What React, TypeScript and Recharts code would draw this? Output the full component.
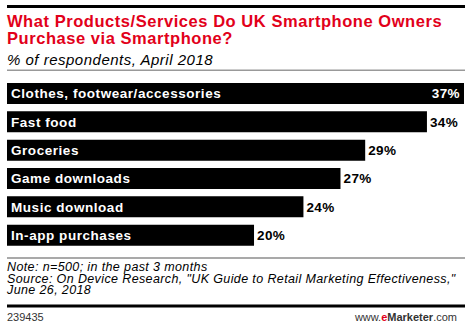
import React from "react";
import { BarChart, Bar, XAxis, YAxis, LabelList } from "recharts";

const categories = [
  "Clothes, footwear/accessories",
  "Fast food",
  "Groceries",
  "Game downloads",
  "Music download",
  "In-app purchases",
];
const values = [37, 34, 29, 27, 24, 20];

const data = categories.map((name, i) => ({ name, value: values[i] }));

const W = 470;
const H = 328;
const FONT = "'Liberation Sans', Arial, sans-serif";
const RED = "#e2001a";

const NameLabel = (props: any) => {
  const { x, y, height, value } = props;
  return (
    <text
      x={x + 4}
      y={y + height / 2}
      dy="0.36em"
      fill="#fff"
      fontFamily={FONT}
      fontWeight="bold"
      fontSize={13.5}
      letterSpacing={0.55}
    >
      {value}
    </text>
  );
};

const ValueLabel = (props: any) => {
  const { x, y, width, height, value } = props;
  const end = x + width;
  const inside = end + 32 > W - 6;
  return (
    <text
      x={inside ? end - 4 : end + 3}
      y={y + height / 2}
      dy="0.36em"
      textAnchor={inside ? "end" : "start"}
      fill={inside ? "#fff" : "#000"}
      fontFamily={FONT}
      fontWeight="bold"
      fontSize={13.5}
      letterSpacing={0.4}
    >
      {value}%
    </text>
  );
};

export default function App() {
  return (
    <div style={{ position: "absolute", left: 0, top: 0, width: W, height: H, background: "#fff" }}>
      <svg width={W} height={H} style={{ position: "absolute", left: 0, top: 0 }}>
        <rect x={7} y={5} width={458} height={3} fill="#000" />
        <text x={7} y={27} fill={RED} fontFamily={FONT} fontWeight="bold" fontSize={16.5} letterSpacing={0.55}>
          What Products/Services Do UK Smartphone Owners
        </text>
        <text x={7} y={43.5} fill={RED} fontFamily={FONT} fontWeight="bold" fontSize={16.5} letterSpacing={0.55}>
          Purchase via Smartphone?
        </text>
        <text x={7} y={65} fill="#000" fontFamily={FONT} fontStyle="italic" fontSize={15} letterSpacing={0.5}>
          % of respondents, April 2018
        </text>
        <rect x={7} y={69.5} width={458} height={1.5} fill="#999" />
        <rect x={7} y={257.5} width={458} height={1} fill="#555" />
        <text x={7} y={271} fill="#000" fontFamily={FONT} fontStyle="italic" fontSize={12.5} letterSpacing={0.38}>
          Note: n=500; in the past 3 months
        </text>
        <text x={7} y={282.5} fill="#000" fontFamily={FONT} fontStyle="italic" fontSize={12.5} letterSpacing={0.38}>
          Source: On Device Research, "UK Guide to Retail Marketing Effectiveness,"
        </text>
        <text x={7} y={294} fill="#000" fontFamily={FONT} fontStyle="italic" fontSize={12.5} letterSpacing={0.38}>
          June 26, 2018
        </text>
        <rect x={7} y={304.5} width={458} height={3} fill="#000" />
        <text x={7} y={321} fill="#333" fontFamily={FONT} fontSize={11}>
          239435
        </text>
        <text x={457} y={321} textAnchor="end" fill="#333" fontFamily={FONT} fontSize={11}>
          www.<tspan fill={RED} fontWeight="bold">e</tspan>
          <tspan fontWeight="bold">Marketer</tspan>.com
        </text>
      </svg>
      <div style={{ position: "absolute", left: 0, top: 0 }}>
        <BarChart
          width={W}
          height={H}
          data={data}
          layout="vertical"
          margin={{ top: 79, bottom: 79, left: 7, right: 6 }}
          barSize={21}
        >
          <XAxis type="number" domain={[0, 37]} hide />
          <YAxis type="category" dataKey="name" hide />
          <Bar dataKey="value" fill="#000" isAnimationActive={false}>
            <LabelList dataKey="name" content={NameLabel} />
            <LabelList dataKey="value" content={ValueLabel} />
          </Bar>
        </BarChart>
      </div>
    </div>
  );
}
